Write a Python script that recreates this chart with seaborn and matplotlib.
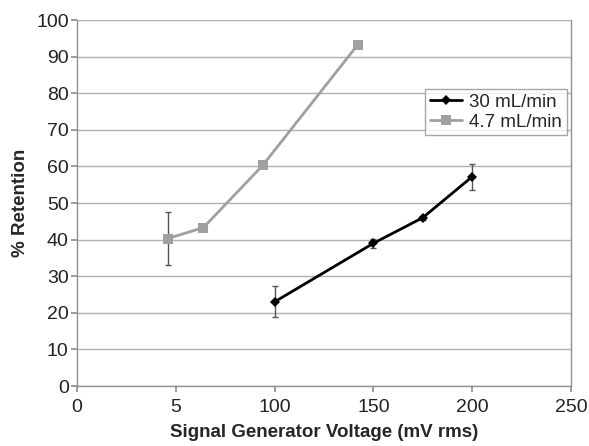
import matplotlib
matplotlib.use("Agg")
import matplotlib.pyplot as plt
import seaborn as sns
import pandas as pd

# data
voltage_30 = [100, 150, 175, 200]
retention_30 = [23.0, 39.0, 46.0, 57.2]
err_30 = [4.2, 1.2, 0.5, 3.5]

voltage_47 = [46, 64, 94, 142]
retention_47 = [40.3, 43.3, 60.3, 93.2]
err_47 = [7.3, 0.5, 0.5, 0.5]

x_ticks = [0, 50, 100, 150, 200, 250]
x_tick_labels = ["0", "5", "100", "150", "200", "250"]

sns.set_theme(style="white")
plt.rcParams["font.family"] = ["Liberation Sans", "DejaVu Sans"]

df = pd.concat([
    pd.DataFrame({"Voltage": voltage_30, "Retention": retention_30, "Flow": "30 mL/min"}),
    pd.DataFrame({"Voltage": voltage_47, "Retention": retention_47, "Flow": "4.7 mL/min"}),
], ignore_index=True)

fig = plt.figure(figsize=(5.89, 4.46), dpi=100)
ax = fig.add_axes([0.1307, 0.1345, 0.8387, 0.8205])

palette = {"30 mL/min": "#000000", "4.7 mL/min": "#a0a0a0"}
markers = {"30 mL/min": "D", "4.7 mL/min": "s"}

# error bars first so lines/markers sit on top
ax.errorbar(voltage_30, retention_30, yerr=err_30, fmt="none", ecolor="#555555",
            elinewidth=1, capsize=2.5, capthick=1, zorder=2)
ax.errorbar(voltage_47, retention_47, yerr=err_47, fmt="none", ecolor="#555555",
            elinewidth=1, capsize=2.5, capthick=1, zorder=2)

sns.lineplot(data=df, x="Voltage", y="Retention", hue="Flow", style="Flow",
             palette=palette, markers=markers, dashes=False, linewidth=2,
             markersize=7, markeredgewidth=0, ax=ax, zorder=3)
for line in ax.lines:
    if line.get_marker() == "D":
        line.set_markersize(5.5)

ax.set_xlim(0, 250)
ax.set_ylim(0, 100)
ax.set_xticks(x_ticks)
ax.set_xticklabels(x_tick_labels)
ax.set_yticks(range(0, 101, 10))
ax.yaxis.grid(True, color="#b0b0b0", linewidth=1)
ax.set_axisbelow(True)

for side in ["left", "bottom", "right"]:
    ax.spines[side].set_color("#909090")
    ax.spines[side].set_linewidth(1)
ax.spines["top"].set_visible(False)

ax.tick_params(axis="both", labelsize=14, colors="#222222", length=4,
               color="#909090", direction="out", bottom=True, left=True)
ax.tick_params(axis="x", pad=5)
ax.tick_params(axis="y", pad=2)

ax.set_xlabel("Signal Generator Voltage (mV rms)", fontsize=13.5, fontweight="bold", labelpad=6)
ax.set_ylabel("% Retention", fontsize=13.5, fontweight="bold", labelpad=5)

leg = ax.legend(loc="upper left", bbox_to_anchor=(0.705, 0.812), fontsize=13.5,
                frameon=True, fancybox=False, edgecolor="#909090",
                handlelength=1.7, handletextpad=0.4, borderpad=0.25,
                labelspacing=0.15, borderaxespad=0)
leg.get_frame().set_linewidth(1)

fig.savefig("out.png", dpi=100)
